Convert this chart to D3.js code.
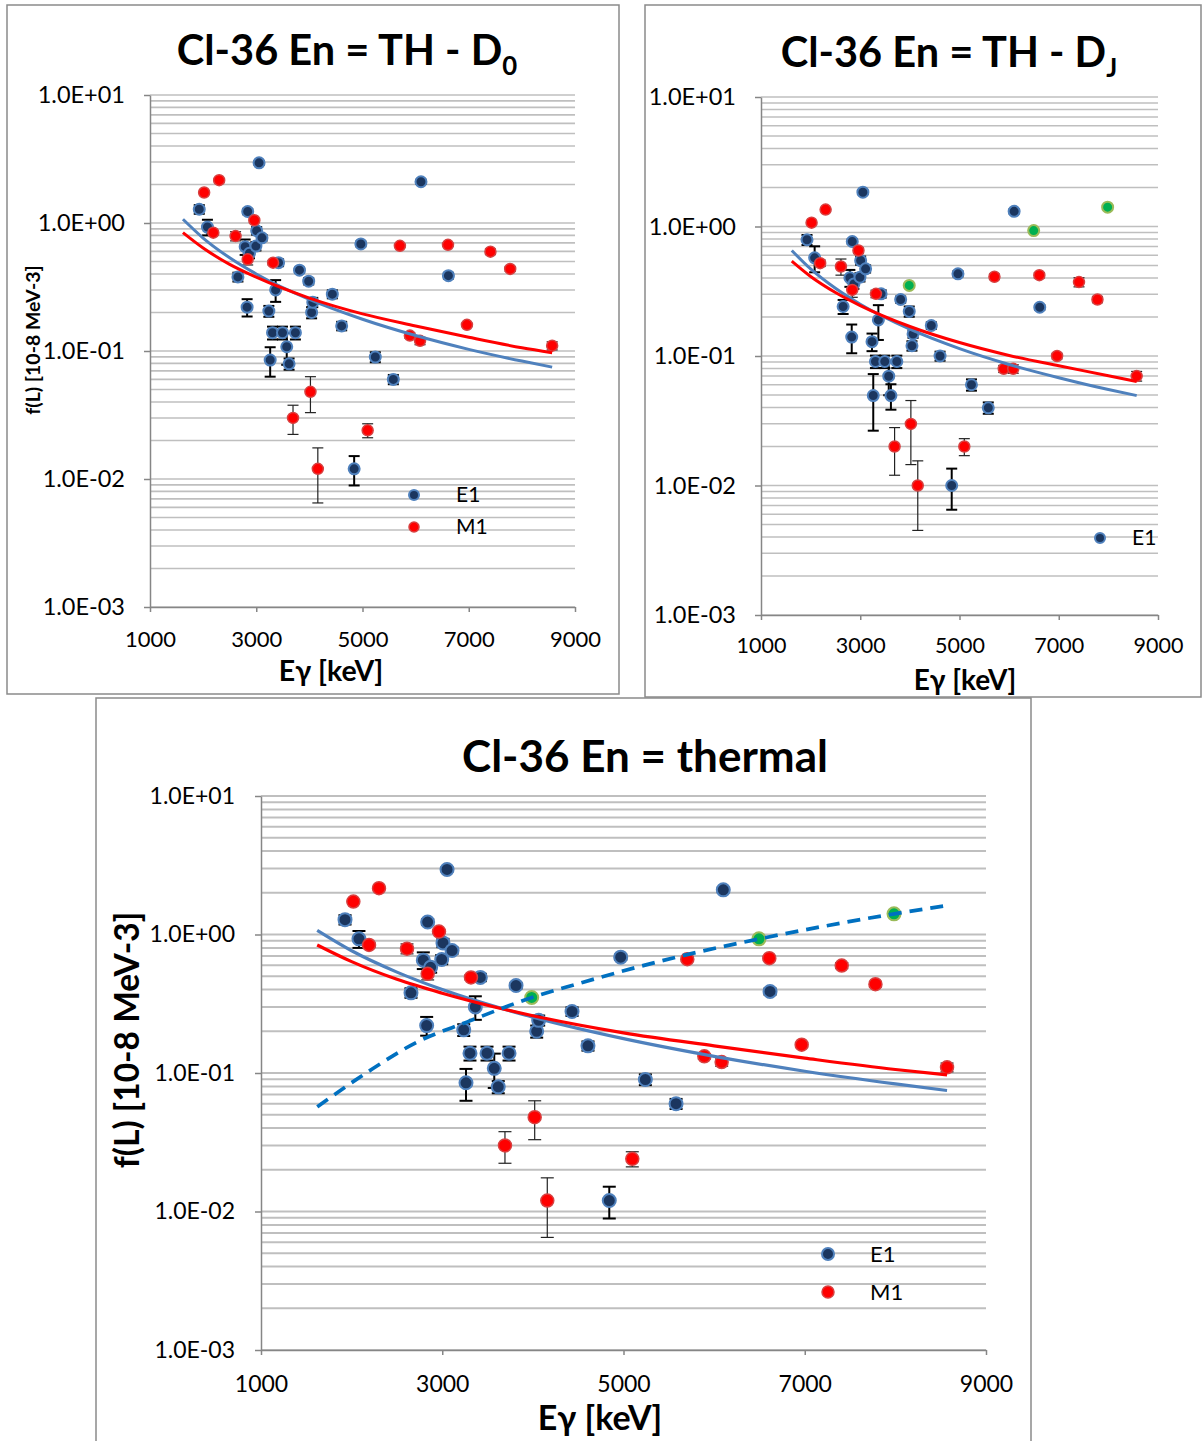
<!DOCTYPE html>
<html><head><meta charset="utf-8">
<script src="https://cdn.jsdelivr.net/npm/d3@7"></script>
<style>
body{margin:0;background:#fff}
svg{display:block}
text{font-family:Lato,"Open Sans",sans-serif;fill:#000}
</style>
</head><body>
<svg id="c" width="1203" height="1441"></svg>
<script>
// ---------- axis ticks ----------
const xTicks = [1000, 3000, 5000, 7000, 9000];
const yTicks = [0.001, 0.01, 0.1, 1, 10];
const yTickLabels = ["1.0E-03", "1.0E-02", "1.0E-01", "1.0E+00", "1.0E+01"];

// ---------- E1 transitions (thermal / D0) ----------
const e1Energy  = [1927, 2081, 2655, 2791, 2828, 2839, 2872, 2994, 3008, 3053, 3108, 3237, 3262, 3306, 3365, 3420, 3494, 3574, 3618, 3737, 3814, 4042, 4064, 4432, 4608, 4843, 4969, 5241, 5580, 6101, 6617];
const e1Thermal = [1.28, 0.93, 0.379, 0.653, 0.22, 1.23, 0.58, 0.66, 0.87, 2.95, 0.766, 0.205, 0.085, 0.139, 0.30, 0.49, 0.139, 0.108, 0.0794, 0.139, 0.428, 0.20, 0.24, 0.278, 0.157, 0.012, 0.686, 0.0897, 0.060, 2.10, 0.388];
const e1ThermalErr = [0.1, 0.13, 0.03, 0.09, 0.034, 0.06, 0.05, 0.05, 0.06, 0.1, 0.04, 0.02, 0.022, 0.016, 0.058, 0.03, 0.016, 0.03, 0.008, 0.016, 0.02, 0.02, 0.02, 0.02, 0.012, 0.0031, 0.03, 0.008, 0.005, 0.08, 0.02];
// E1 values for D_J panel (same transitions)
const e1DJ    = [0.79, 0.573, 0.241, 0.402, 0.14, 0.766, 0.36, 0.406, 0.546, 1.84, 0.471, 0.129, 0.0495, 0.0907, 0.19, 0.302, 0.0907, 0.0698, 0.0495, 0.0907, 0.273, 0.12, 0.148, 0.172, 0.10, 0.010, 0.431, 0.060, 0.0398, 1.31, 0.238];
const e1DJErr = [0.07, 0.13, 0.03, 0.06, 0.035, 0.03, 0.03, 0.03, 0.04, 0.06, 0.03, 0.02, 0.023, 0.01, 0.057, 0.02, 0.01, 0.02, 0.011, 0.01, 0.015, 0.01, 0.01, 0.01, 0.008, 0.0035, 0.02, 0.006, 0.004, 0.05, 0.01];
// extra E1 point shown only as E1 in D0/DJ panels
const e1ExtraEnergy = [3987];
const e1ExtraD0 = [0.351];
const e1ExtraDJ = [0.221];
const e1ExtraErr = [0.02];

// ---------- M1 transitions ----------
const m1Energy  = [2019, 2192, 2302, 2611, 2839, 2964, 3317, 3692, 4020, 4159, 5097, 5704, 5892, 6083, 6609, 6966, 7408, 7780, 8570];
const m1Thermal = [1.73, 0.84, 2.16, 0.79, 0.52, 1.05, 0.49, 0.030, 0.048, 0.012, 0.024, 0.663, 0.132, 0.120, 0.675, 0.160, 0.597, 0.438, 0.110];
const m1ThermalErr = [0.03, 0.03, 0.04, 0.065, 0.05, 0.03, 0.02, 0.0077, 0.015, 0.0055, 0.003, 0.02, 0.006, 0.008, 0.02, 0.005, 0.03, 0.02, 0.008];
const m1DJ    = [1.07, 0.521, 1.35, 0.491, 0.324, 0.653, 0.302, 0.020, 0.0299, 0.010, 0.020, 0.409, 0.0796, 0.0796, 0.421, 0.10, 0.372, 0.273, 0.070];
const m1DJErr = [0.03, 0.03, 0.03, 0.07, 0.04, 0.03, 0.02, 0.008, 0.0154, 0.0055, 0.003, 0.02, 0.005, 0.006, 0.02, 0.005, 0.03, 0.015, 0.006];

// ---------- green points ----------
const greenEnergy = [3987, 6495, 7985];
const greenValue  = [0.351, 0.93, 1.41];

// ---------- trend curves ----------
const fitEnergy     = [1620, 2000, 2500, 3000, 4000, 5000, 6000, 7000, 8000, 8570];
const fitE1Thermal  = [1.07, 0.763, 0.535, 0.40, 0.253, 0.177, 0.132, 0.103, 0.0834, 0.0748];
const fitM1Thermal  = [0.84, 0.637, 0.475, 0.377, 0.259, 0.195, 0.157, 0.128, 0.106, 0.097];
const fitE1DJ       = [0.653, 0.47, 0.333, 0.251, 0.161, 0.114, 0.086, 0.068, 0.0551, 0.0495];
const fitM1DJ       = [0.54, 0.411, 0.309, 0.245, 0.169, 0.127, 0.101, 0.084, 0.0705, 0.0635];
const dashEnergy    = [1620, 2170, 2720, 3270, 3990, 4520, 4740, 5600, 6500, 7990, 8570];
const dashValue     = [0.057, 0.101, 0.167, 0.233, 0.351, 0.445, 0.49, 0.69, 0.93, 1.41, 1.62];

const zip = (a, b, c) => a.map((v, i) => c ? [v, b[i], c[i]] : [v, b[i]]);

const svg = d3.select("#c");

function panel(cfg) {
  const g = svg.append("g");
  g.append("rect")
    .attr("x", cfg.box[0]).attr("y", cfg.box[1])
    .attr("width", cfg.box[2]).attr("height", cfg.box[3])
    .attr("fill", "#fff").attr("stroke", "#8a8a8a").attr("stroke-width", 1.5);

  const x = d3.scaleLinear().domain([1000, 9000]).range([cfg.x0, cfg.x1]);
  const y = d3.scaleLog().domain([0.001, 10]).range([cfg.yb, cfg.yt]);

  // gridlines
  g.append("g").selectAll("line").data(y.ticks()).join("line")
    .attr("x1", cfg.x0).attr("x2", cfg.x1)
    .attr("y1", d => y(d)).attr("y2", d => y(d))
    .attr("stroke", "#bfbfbf").attr("stroke-width", cfg.gw);

  // axes
  const xa = g.append("g").attr("transform", `translate(0,${cfg.yb})`)
    .call(d3.axisBottom(x).tickValues(xTicks).tickSize(5).tickSizeOuter(0).tickPadding(cfg.xpad).tickFormat(d3.format("d")));
  const ya = g.append("g").attr("transform", `translate(${cfg.x0},0)`)
    .call(d3.axisLeft(y).tickValues(yTicks).tickSize(6).tickSizeOuter(0).tickPadding(cfg.ypad)
      .tickFormat((d, i) => yTickLabels[i]));
  [xa, ya].forEach((a, k) => {
    a.select(".domain").attr("stroke", "#868686").attr("stroke-width", 1.5);
    a.selectAll(".tick line").attr("stroke", "#868686").attr("stroke-width", 1.5);
    a.selectAll(".tick text").attr("font-size", k ? cfg.yf : cfg.tf).attr("fill", "#000")
      .style("font-family", "Lato, 'Open Sans', sans-serif");
  });

  // error bars
  const eb = g.append("g");
  function bars(data, w, col) {
    data.forEach(([e, v, s]) => {
      const lo = Math.max(v - s, 1e-4), hi = v + s;
      const cx = x(e);
      eb.append("line").attr("x1", cx).attr("x2", cx).attr("y1", y(lo)).attr("y2", y(hi))
        .attr("stroke", col).attr("stroke-width", w);
      [lo, hi].forEach(t => eb.append("line")
        .attr("x1", cx - cfg.cap).attr("x2", cx + cfg.cap).attr("y1", y(t)).attr("y2", y(t))
        .attr("stroke", col).attr("stroke-width", w));
    });
  }
  bars(cfg.e1, cfg.ebw, "#000");
  bars(cfg.m1, cfg.ebw * 0.6, "#222");

  // markers
  const mk = g.append("g");
  const dot = (data, fill, stroke, sw) => mk.append("g").selectAll("circle").data(data).join("circle")
    .attr("cx", d => x(d[0])).attr("cy", d => y(d[1])).attr("r", cfg.r)
    .attr("fill", fill).attr("stroke", stroke).attr("stroke-width", sw);
  dot(cfg.e1, "#1b365f", "#4f81bd", 2);
  dot(cfg.m1, "#ff0000", "#d84040", 1.5);
  if (cfg.green) dot(cfg.green, "#00b050", "#9bbb59", 2);

  // trend lines
  const line = d3.line().x(d => x(d[0])).y(d => y(d[1])).curve(d3.curveMonotoneX);
  g.append("path").attr("d", line(cfg.fitE1)).attr("fill", "none").attr("stroke", "#4f81bd").attr("stroke-width", cfg.lw);
  g.append("path").attr("d", line(cfg.fitM1)).attr("fill", "none").attr("stroke", "#ff0000").attr("stroke-width", cfg.lw);
  if (cfg.dash) g.append("path").attr("d", line(cfg.dash)).attr("fill", "none")
    .attr("stroke", "#0070c0").attr("stroke-width", cfg.lw + 0.5).attr("stroke-dasharray", "13,8");

  // title
  const t = g.append("text").attr("x", cfg.title[0]).attr("y", cfg.title[1])
    .attr("text-anchor", "middle").attr("font-size", cfg.title[2]).attr("font-weight", "bold");
  t.append("tspan").text(cfg.titleText);
  if (cfg.sub) t.append("tspan").attr("font-size", cfg.title[2] * 0.62).attr("dy", cfg.title[2] * 0.25).text(cfg.sub);

  // x title
  g.append("text").attr("x", cfg.xt[0]).attr("y", cfg.xt[1]).attr("dy", "0.35em")
    .attr("text-anchor", "middle").attr("font-size", cfg.xt[2]).attr("font-weight", "bold").text("Eγ [keV]");
  // y title
  if (cfg.yt2) g.append("text")
    .attr("transform", `translate(${cfg.yt2[0]},${cfg.yt2[1]}) rotate(-90)`).attr("dy", "0.35em")
    .attr("text-anchor", "middle").attr("font-size", cfg.yt2[2]).attr("font-weight", "bold").text("f(L) [10-8 MeV-3]");

  // legend
  cfg.legend.forEach(([name, mx, my, tx]) => {
    const e1 = name === "E1";
    g.append("circle").attr("cx", mx).attr("cy", my).attr("r", cfg.r - 0.5)
      .attr("fill", e1 ? "#1b365f" : "#ff0000").attr("stroke", e1 ? "#4f81bd" : "#d84040").attr("stroke-width", e1 ? 2 : 1.5);
    g.append("text").attr("x", tx).attr("y", my).attr("dy", "0.35em").attr("font-size", cfg.lf).text(name);
  });
}

// Panel 1 : TH - D0
panel({
  box: [7, 5, 612, 689], x0: 150, x1: 575, yt: 95, yb: 607, gw: 1.6,
  xpad: 19, ypad: 19, tf: 22, yf: 23.5, cap: 5.5, ebw: 2, r: 5.5, lw: 3,
  e1: zip(e1Energy.concat(e1ExtraEnergy), e1Thermal.concat(e1ExtraD0), e1ThermalErr.concat(e1ExtraErr)),
  m1: zip(m1Energy, m1Thermal, m1ThermalErr),
  fitE1: zip(fitEnergy, fitE1Thermal), fitM1: zip(fitEnergy, fitM1Thermal),
  title: [347, 65, 41.5], titleText: "Cl-36 En = TH - D", sub: "0",
  xt: [331, 671, 28.5], yt2: [33, 340, 19.5], lf: 21,
  legend: [["E1", 414, 495, 456], ["M1", 414, 527, 456]]
});

// Panel 2 : TH - DJ
panel({
  box: [645, 5, 556, 692], x0: 761, x1: 1158, yt: 97, yb: 615, gw: 1.6,
  xpad: 18, ypad: 19, tf: 21.5, yf: 23.5, cap: 5.5, ebw: 2, r: 5.5, lw: 3,
  e1: zip(e1Energy.concat(e1ExtraEnergy), e1DJ.concat(e1ExtraDJ), e1DJErr.concat(e1ExtraErr)),
  m1: zip(m1Energy, m1DJ, m1DJErr),
  green: zip(greenEnergy, greenValue),
  fitE1: zip(fitEnergy, fitE1DJ), fitM1: zip(fitEnergy, fitM1DJ),
  title: [949, 67, 41.5], titleText: "Cl-36 En = TH - D", sub: "J",
  xt: [965, 680, 28], lf: 21,
  legend: [["E1", 1100, 538, 1132]]
});

// Panel 3 : thermal
panel({
  box: [96, 698, 935, 760], x0: 261, x1: 986, yt: 796, yb: 1350, gw: 2,
  xpad: 21, ypad: 20, tf: 23, yf: 23, cap: 6.5, ebw: 2, r: 6.5, lw: 3.2,
  e1: zip(e1Energy, e1Thermal, e1ThermalErr),
  m1: zip(m1Energy, m1Thermal, m1ThermalErr),
  green: zip(greenEnergy, greenValue),
  fitE1: zip(fitEnergy, fitE1Thermal), fitM1: zip(fitEnergy, fitM1Thermal),
  dash: zip(dashEnergy, dashValue),
  title: [645, 772, 44], titleText: "Cl-36 En = thermal",
  xt: [600, 1418, 34], yt2: [127, 1040, 33.5], lf: 22,
  legend: [["E1", 828, 1254, 870], ["M1", 828, 1292, 870]]
});
</script>
</body></html>
